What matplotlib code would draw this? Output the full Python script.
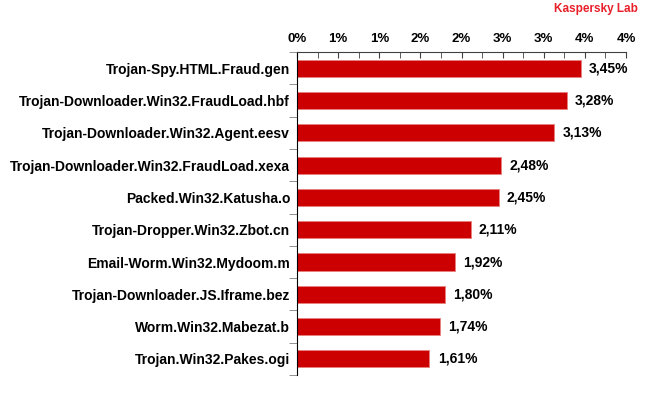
import numpy as np
import matplotlib
matplotlib.use("Agg")
import matplotlib.pyplot as plt
from matplotlib.ticker import MultipleLocator, FuncFormatter

plt.rcParams['font.family'] = ['Liberation Sans', 'DejaVu Sans']

# данные
names = [
    "Trojan-Spy.HTML.Fraud.gen",
    "Trojan-Downloader.Win32.FraudLoad.hbf",
    "Trojan-Downloader.Win32.Agent.eesv",
    "Trojan-Downloader.Win32.FraudLoad.xexa",
    "Packed.Win32.Katusha.o",
    "Trojan-Dropper.Win32.Zbot.cn",
    "Email-Worm.Win32.Mydoom.m",
    "Trojan-Downloader.JS.Iframe.bez",
    "Worm.Win32.Mabezat.b",
    "Trojan.Win32.Pakes.ogi",
]
shares = [3.45, 3.28, 3.13, 2.48, 2.45, 2.11, 1.92, 1.80, 1.74, 1.61]

fig = plt.figure(figsize=(6.5, 4), dpi=100)
ax = fig.add_axes([0.457, 0.0625, 0.506, 0.807])

y = np.arange(len(names))
ax.barh(y, shares, height=0.53, color="#CC0000", edgecolor="#E88080", linewidth=0.6)
ax.set_ylim(len(names) - 0.5, -0.5)
ax.set_xlim(0, 4)

for yi, v in zip(y, shares):
    ax.annotate(f"{v:.2f}%".replace(".", ","), (v, yi), xytext=(6, 0),
                textcoords="offset points", va="center", ha="left",
                fontsize=10, fontweight="bold")

# ось X сверху, подписи округлены как в Excel (0,5 -> 1)
ax.xaxis.tick_top()
ax.xaxis.set_major_locator(MultipleLocator(0.5))
ax.xaxis.set_minor_locator(MultipleLocator(0.25))
ax.xaxis.set_major_formatter(FuncFormatter(lambda x, p: f"{int(x + 0.5)}%"))
ax.tick_params(axis="x", which="both", direction="in", length=4, color="#404040",
               labelsize=9.5, pad=5)
for lbl in ax.get_xticklabels():
    lbl.set_fontweight("bold")

# ось Y
ax.set_yticks(y)
ax.set_yticklabels(names, fontsize=10, fontweight="bold")
ax.set_yticks(np.arange(len(names) + 1) - 0.5, minor=True)
ax.tick_params(axis="y", which="major", length=0, pad=5)
ax.tick_params(axis="y", which="minor", length=6, color="#808080", direction="out")

for s in ["right", "bottom"]:
    ax.spines[s].set_visible(False)
ax.spines["top"].set_color("#404040")
ax.spines["left"].set_color("black")

fig.text(0.982, 0.978, "Kaspersky Lab", color="#E8202A", fontsize=8.5,
         fontweight="bold", ha="right", va="center")

fig.savefig("out.png", dpi=100)
